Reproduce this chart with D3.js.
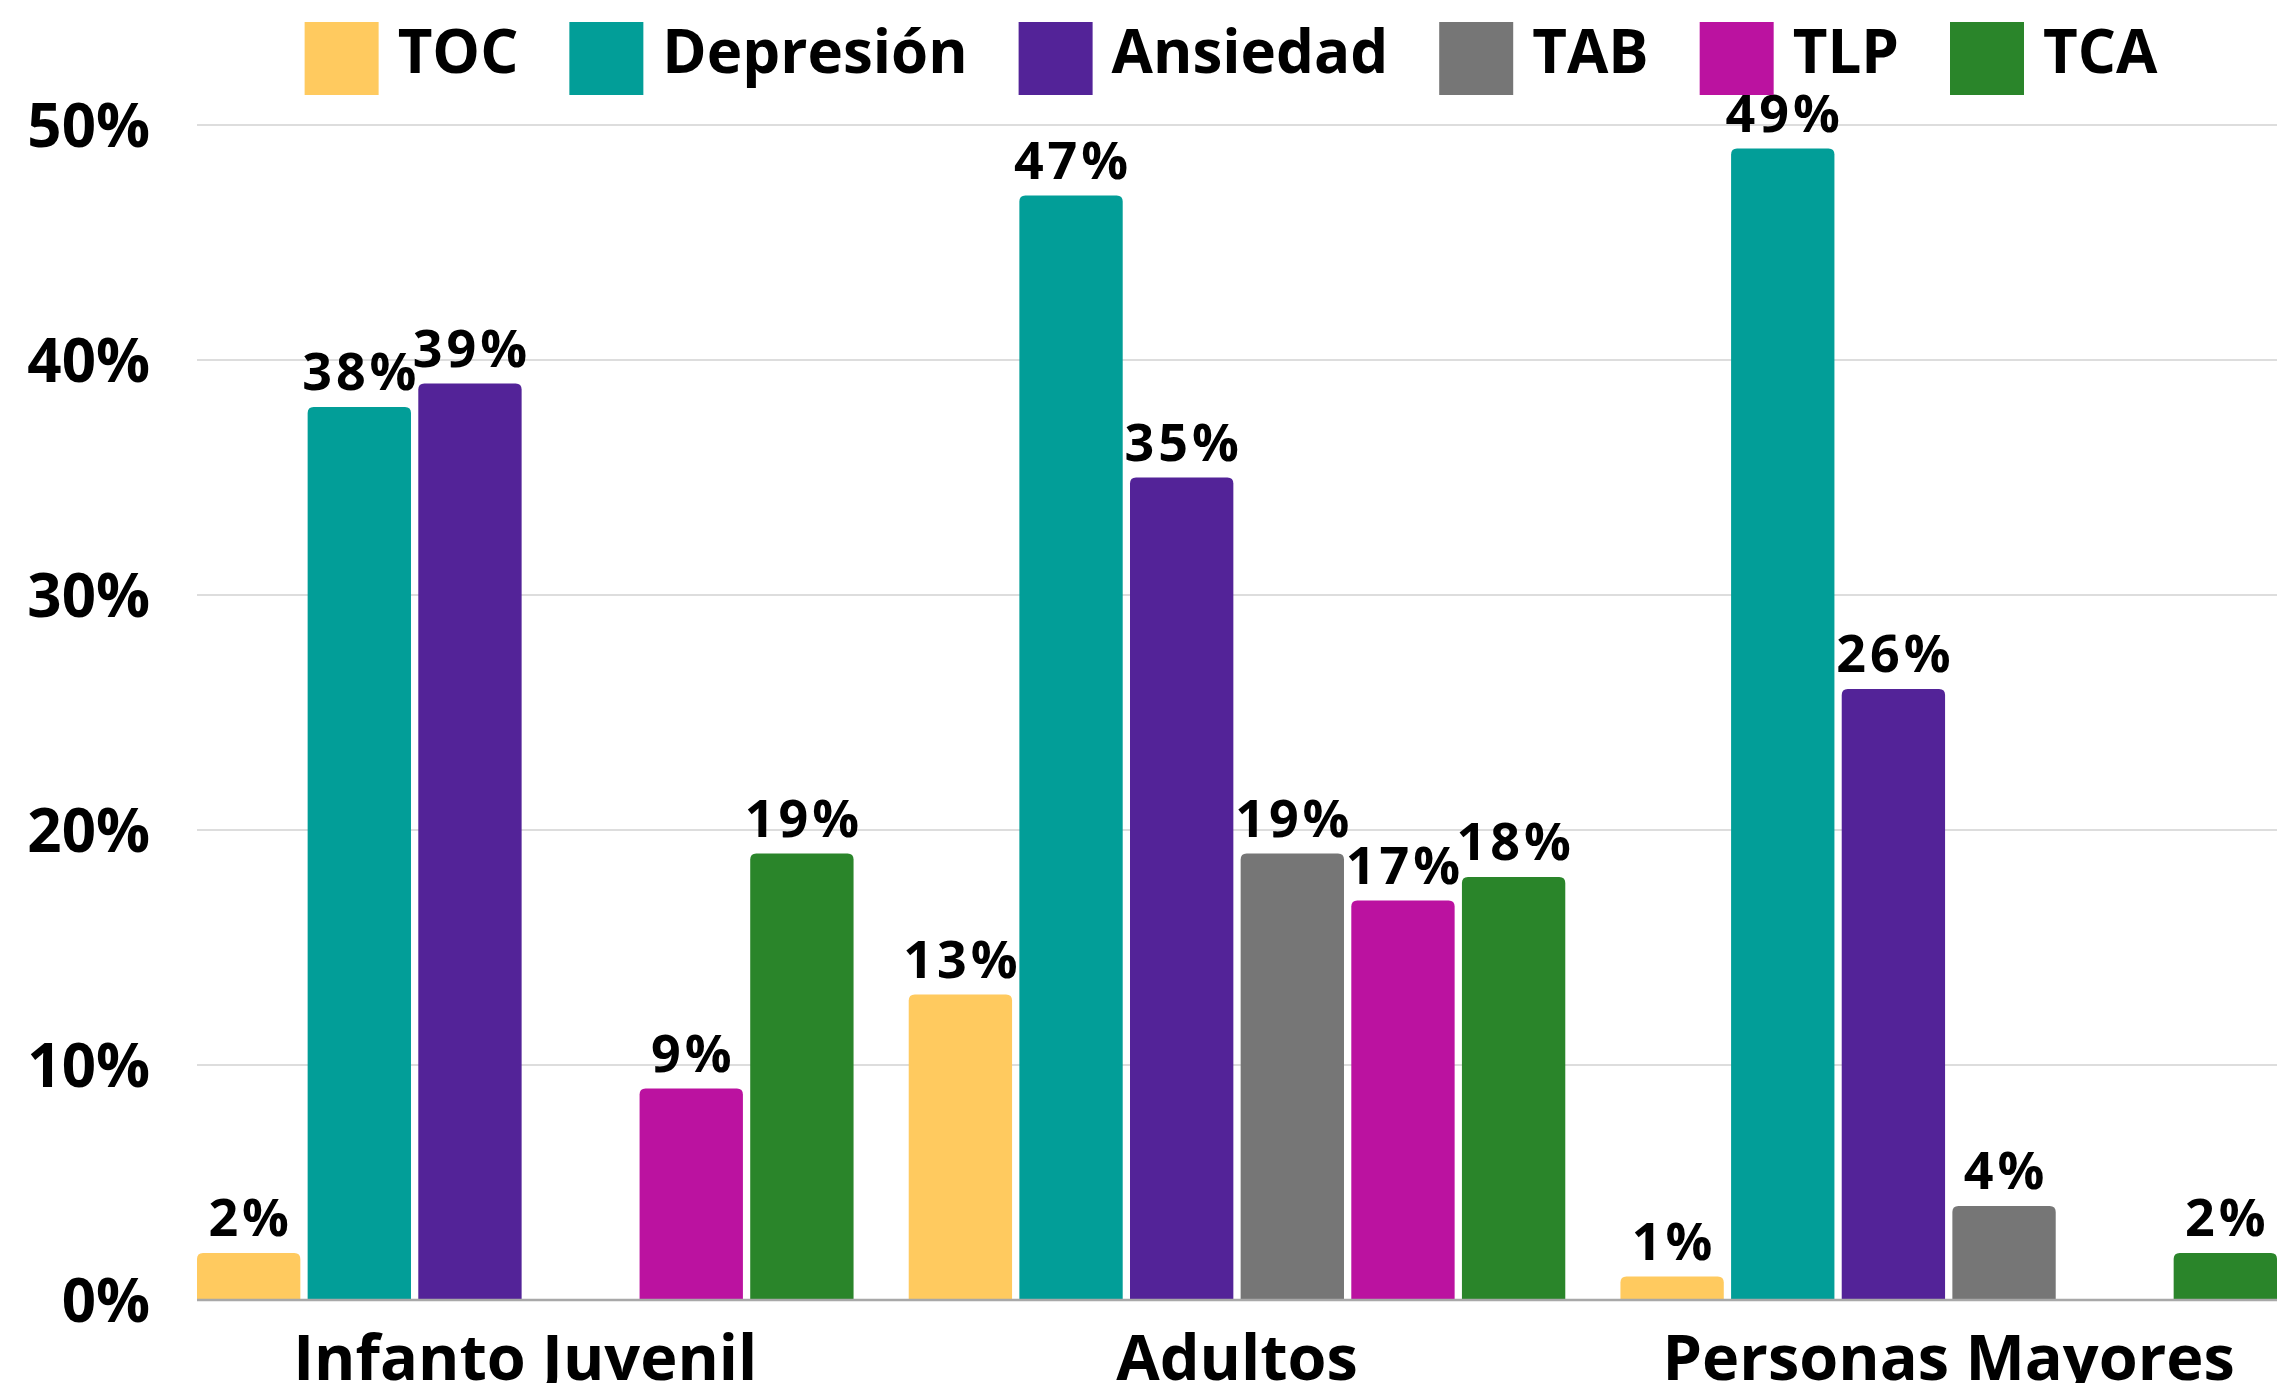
<!DOCTYPE html>
<html>
<head>
<meta charset="utf-8">
<script src="https://d3js.org/d3.v7.min.js"></script>
<style>
  body { margin: 0; background: #fff; }
  text { font-family: "Open Sans", "Noto Sans", sans-serif; font-weight: 700; fill: #000; }
</style>
</head>
<body>
<div id="chart"></div>
<script>
// categories and series
var groups = ["Infanto Juvenil", "Adultos", "Personas Mayores"];
var series = ["TOC", "Depresión", "Ansiedad", "TAB", "TLP", "TCA"];
var colors = ["#ffca5f", "#029e98", "#532398", "#767676", "#bb12a0", "#2a852a"];

// values in %, one per group
var toc       = [2, 13, 1];
var depresion = [38, 47, 49];
var ansiedad  = [39, 35, 26];
var tab       = [0, 19, 4];
var tlp       = [9, 17, 0];
var tca       = [19, 18, 2];
var values = [toc, depresion, ansiedad, tab, tlp, tca];

var yTicks = [0, 10, 20, 30, 40, 50];

var W = 2277, H = 1383;
var plotLeft = 197, plotRight = 2277, plotTop = 125, plotBottom = 1300;

var svg = d3.select("#chart").append("svg")
  .attr("width", W).attr("height", H);

var x0 = d3.scaleBand().domain(groups).range([plotLeft, plotRight])
  .paddingInner(0.0775).paddingOuter(0);
var x1 = d3.scaleBand().domain(series).range([0, x0.bandwidth()])
  .paddingInner(0.066).paddingOuter(0);
var y = d3.scaleLinear().domain([0, 50]).range([plotBottom, plotTop]);

// grid
svg.append("g").selectAll("line")
  .data(yTicks.filter(function(d) { return d > 0; }))
  .enter().append("line")
  .attr("x1", plotLeft).attr("x2", plotRight)
  .attr("y1", function(d) { return y(d); })
  .attr("y2", function(d) { return y(d); })
  .style("stroke", "#d2d2d2").style("stroke-width", 1.5);

// y axis labels
svg.append("g").selectAll("text")
  .data(yTicks).enter().append("text")
  .attr("x", 150)
  .attr("y", function(d) { return y(d); })
  .attr("dy", "0.36em")
  .attr("text-anchor", "end")
  .style("font-size", "60px")
  .text(function(d) { return d + "%"; });

function topRounded(x, yy, w, h, r) {
  r = Math.min(r, h, w / 2);
  return "M" + x + "," + (yy + h) +
    "V" + (yy + r) +
    "Q" + x + "," + yy + " " + (x + r) + "," + yy +
    "H" + (x + w - r) +
    "Q" + (x + w) + "," + yy + " " + (x + w) + "," + (yy + r) +
    "V" + (yy + h) + "Z";
}

// flatten to one record per bar
var bars = [];
groups.forEach(function(g, gi) {
  series.forEach(function(s, si) {
    bars.push({ group: g, key: s, color: colors[si], value: values[si][gi] });
  });
});
var shown = bars.filter(function(d) { return d.value > 0; });

svg.append("g").selectAll("path")
  .data(shown).enter().append("path")
  .attr("d", function(d) {
    var bx = x0(d.group) + x1(d.key);
    return topRounded(bx, y(d.value), x1.bandwidth(), plotBottom - y(d.value), 6);
  })
  .style("fill", function(d) { return d.color; });

// baseline
svg.append("line")
  .attr("x1", plotLeft).attr("x2", plotRight)
  .attr("y1", plotBottom).attr("y2", plotBottom)
  .style("stroke", "#a8a8a8").style("stroke-width", 2.5);

// value labels
svg.append("g").selectAll("text")
  .data(shown).enter().append("text")
  .attr("x", function(d) { return x0(d.group) + x1(d.key) + x1.bandwidth() / 2 + 2; })
  .attr("y", function(d) { return y(d.value) - 17; })
  .attr("text-anchor", "middle")
  .style("font-size", "52px")
  .style("letter-spacing", "4px")
  .text(function(d) { return d.value + "%"; });

// x axis labels
svg.append("g").selectAll("text")
  .data(groups).enter().append("text")
  .attr("x", function(d) { return x0(d) + x0.bandwidth() / 2; })
  .attr("y", 1380)
  .attr("text-anchor", "middle")
  .style("font-size", "63px")
  .text(function(d) { return d; });

// legend
var legend = svg.append("g");
var lx = 0;
series.forEach(function(s, i) {
  var item = legend.append("g").attr("transform", "translate(" + lx + ",0)");
  item.append("rect")
    .attr("x", 0).attr("y", 22).attr("width", 74).attr("height", 73)
    .style("fill", colors[i]);
  var t = item.append("text")
    .attr("x", 93).attr("y", 51).attr("dy", "0.36em")
    .style("font-size", "60px")
    .text(s);
  lx += 93 + t.node().getComputedTextLength() + 51;
});
var legendWidth = lx - 51;
legend.attr("transform", "translate(" + ((plotLeft + plotRight) / 2 - 6 - legendWidth / 2) + ",0)");
</script>
</body>
</html>
